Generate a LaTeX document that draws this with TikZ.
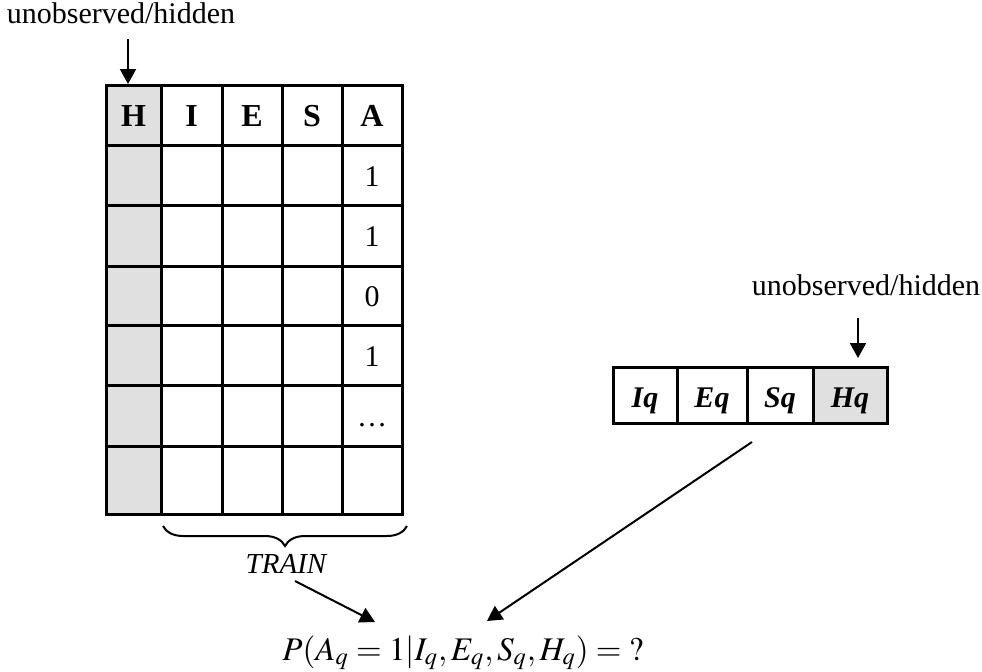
\documentclass[tikz,border=0pt]{standalone}
\usepackage{mathptmx}
\usepackage{fontspec}
\setmainfont{Liberation Serif}
\usetikzlibrary{arrows.meta,decorations.pathreplacing}
\definecolor{hidgray}{RGB}{224,224,224}
\begin{document}
\begin{tikzpicture}[x=0.5pt,y=-0.5pt,
  cell/.style={draw, line width=1.5pt, inner sep=0pt, outer sep=0pt},
  lab/.style={font=\fontsize{15}{18}\selectfont, inner sep=0pt, anchor=base},
  arr/.style={line width=1pt, -{Triangle[length=7.5pt,width=8pt]}},
  bracestyle/.style={line width=1pt, decorate, decoration={brace, mirror, amplitude=10pt}}
]
\useasboundingbox (0,0) rectangle (982,671);
% grey hidden column of the training table
\fill[hidgray] (106,85) rectangle (161,514);
% training table cells
\foreach \r/\ya/\yb in {0/85/145,1/145/205,2/205/266,3/266/325,4/325/385,5/385/446,6/446/514} {
  \foreach \c/\xa/\xb in {0/106/161,1/161/222,2/222/282,3/282/342,4/342/402} {
    \pgfmathsetmacro\w{(\xb-\xa)*0.5}
    \pgfmathsetmacro\h{(\yb-\ya)*0.5}
    \node[cell, minimum width=\w pt, minimum height=\h pt] (c\r\c) at ({(\xa+\xb)/2},{(\ya+\yb)/2}) {};
  }
}
% header texts
\node[lab, yshift=-5.5pt, font=\fontsize{16}{19}\selectfont] (hH) at (c00.center) {\textbf{H}};
\node[lab, yshift=-5.5pt, font=\fontsize{16}{19}\selectfont] (hI) at (c01.center) {\textbf{I}};
\node[lab, yshift=-5.5pt, font=\fontsize{16}{19}\selectfont] (hE) at (c02.center) {\textbf{E}};
\node[lab, yshift=-5.5pt, font=\fontsize{16}{19}\selectfont] (hS) at (c03.center) {\textbf{S}};
\node[lab, yshift=-5.5pt, font=\fontsize{16}{19}\selectfont] (hA) at (c04.center) {\textbf{A}};
% A column values
\node[lab, yshift=-5.5pt] (v1) at (c14.center) {1};
\node[lab, yshift=-5.5pt] (v2) at (c24.center) {1};
\node[lab, yshift=-5.5pt] (v3) at (c34.center) {0};
\node[lab, yshift=-5.5pt] (v4) at (c44.center) {1};
\node[lab, yshift=-5.5pt] (v5) at (c54.center) {\textellipsis};
% left label and arrow
\node[lab] (lab1) at (121,23) {unobserved/hidden};
\coordinate (a1s) at (128,39);
\coordinate (a1e) at (128,84);
\draw[arr] (a1s) -- (a1e);
% brace and TRAIN
\coordinate (br1) at (163,526);
\coordinate (br2) at (407,526);
\draw[bracestyle] (br1) -- (br2);
\node[lab, font=\fontsize{14.5}{17}\selectfont\itshape] (train) at (286,573) {TRAIN};
% query row
\fill[hidgray] (813,367) rectangle (887,423);
\node[cell, minimum width=32pt, minimum height=28pt] (q1) at (645,395) {};
\node[cell, minimum width=35pt, minimum height=28pt] (q2) at (712,395) {};
\node[cell, minimum width=33pt, minimum height=28pt] (q3) at (780,395) {};
\node[cell, minimum width=37pt, minimum height=28pt] (q4) at (850,395) {};
\node[lab, yshift=-6pt] (tq1) at (q1.center) {\textbf{\textit{Iq}}};
\node[lab, yshift=-6pt] (tq2) at (q2.center) {\textbf{\textit{Eq}}};
\node[lab, yshift=-6pt] (tq3) at (q3.center) {\textbf{\textit{Sq}}};
\node[lab, yshift=-6pt] (tq4) at (q4.center) {\textbf{\textit{Hq}}};
% right label and arrow
\node[lab] (lab2) at (866,295) {unobserved/hidden};
\coordinate (a2s) at (858,318);
\coordinate (a2e) at (858,358);
\draw[arr] (a2s) -- (a2e);
% formula
\node[inner sep=0pt, anchor=base, font=\fontsize{16.5}{20}\selectfont] (formula) at (463,660)
  {$P(A_q = 1 | I_q, E_q, S_q, H_q) = {?}$};
% arrows into the formula
\coordinate (t1) at (295,581);
\coordinate (t2) at (375,622);
\draw[arr] (t1) -- (t2);
\coordinate (s1) at (752,442);
\coordinate (s2) at (487,621);
\draw[arr] (s1) -- (s2);
\end{tikzpicture}
\end{document}
